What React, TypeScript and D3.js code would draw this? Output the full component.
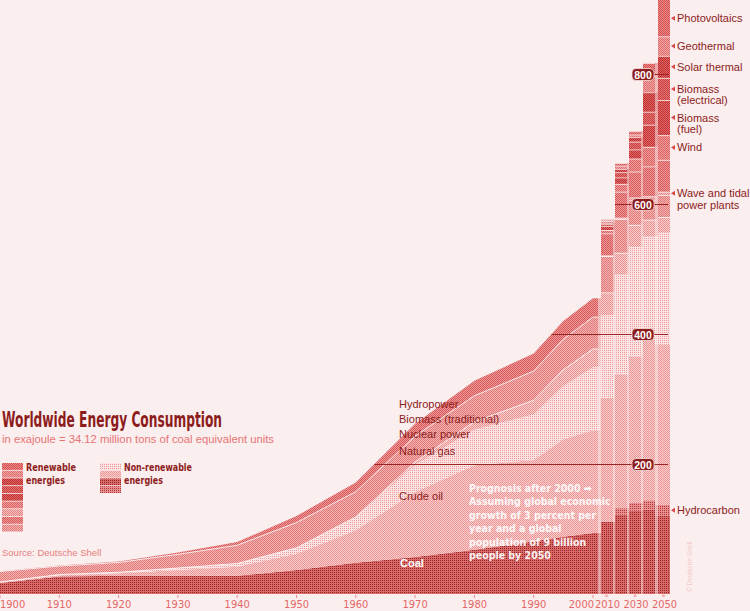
import React from 'react';
import * as d3 from 'd3';

const WIDTH = 750;
const HEIGHT = 611;

// Historical consumption in exajoule (area chart, 1900–2000)
const histYears = [1900, 1910, 1920, 1930, 1940, 1950, 1960, 1970, 1980, 1990, 1995, 2000];
const histCoal = [17, 27, 28, 28, 28, 37, 48, 57, 68, 81, 88, 94];
const histCrudeOil = [1, 2, 4, 9, 14, 25, 50, 100, 130, 125, 150, 158];
const histNaturalGas = [0.5, 1, 1.5, 3, 5, 9, 20, 42, 55, 70, 82, 97];
const histNuclear = [0, 0, 0, 0, 0, 0, 0.5, 4, 12, 22, 25, 28];
const histBiomassTrad = [16, 13, 15, 21, 28, 39, 39, 40, 40, 45, 47, 49];
const histHydropower = [0.5, 1, 1.5, 3, 5, 10, 14, 19, 23, 27, 28, 29];

// Prognosis in exajoule (stacked bars, 2010–2050)
const progYears = [2010, 2020, 2030, 2040, 2050];
const progCoal = [111, 122, 128, 130, 121];
const progHydrocarbon = [0, 10, 12, 14, 16];
const progCrudeOil = [191, 206, 225, 247, 246];
const progNaturalGas = [127, 154, 169, 159, 174];
const progNuclear = [35, 33, 34, 26, 23];
const progBiomassTrad = [56, 52, 38, 30, 34];
const progWaveTidal = [1, 2, 4, 6, 5];
const progHydropower = [34, 40, 40, 46, 49];
const progWind = [5, 12, 20, 30, 38];
const progBiomassFuel = [6, 10, 14, 34, 54];
const progBiomassElec = [3, 8, 12, 20, 34];
const progSolarThermal = [2, 5, 7, 30, 34];
const progGeothermal = [3, 5, 4, 25, 30];
const progPhotovoltaics = [2, 4, 5, 20, 85];

const gridValues = [200, 400, 600, 800];
const histAxisYears = [1900, 1910, 1920, 1930, 1940, 1950, 1960, 1970, 1980, 1990, 2000];
const progAxisYears = [2010, 2030, 2050];

const prognosisLines = [
  'Prognosis after 2000 \u27A1',
  'Assuming global economic',
  'growth of 3 percent per',
  'year and a global',
  'population of 9 billion',
  'people by 2050',
];

// Stack order, bottom to top
const LAYERS = [
  { key: 'coal', hist: histCoal, prog: progCoal },
  { key: 'hydrocarbon', hist: null, prog: progHydrocarbon },
  { key: 'oil', hist: histCrudeOil, prog: progCrudeOil },
  { key: 'gas', hist: histNaturalGas, prog: progNaturalGas },
  { key: 'nuclear', hist: histNuclear, prog: progNuclear },
  { key: 'biomassTrad', hist: histBiomassTrad, prog: progBiomassTrad },
  { key: 'wave', hist: null, prog: progWaveTidal },
  { key: 'hydro', hist: histHydropower, prog: progHydropower },
  { key: 'wind', hist: null, prog: progWind },
  { key: 'bioFuel', hist: null, prog: progBiomassFuel },
  { key: 'bioElec', hist: null, prog: progBiomassElec },
  { key: 'solarThermal', hist: null, prog: progSolarThermal },
  { key: 'geothermal', hist: null, prog: progGeothermal },
  { key: 'pv', hist: null, prog: progPhotovoltaics },
];

// Halftone-like fills: background tone plus a 2x2 dot or checker pattern
const FILLS: Record<string, { bg: string; fg: string; kind: 'dot' | 'checker' }> = {
  coal: { bg: '#da6a6a', fg: '#922424', kind: 'dot' },
  hydrocarbon: { bg: '#e88e8e', fg: '#b03838', kind: 'dot' },
  oil: { bg: '#f9d0d0', fg: '#ec9494', kind: 'checker' },
  gas: { bg: '#fce3e3', fg: '#ee9a9a', kind: 'dot' },
  nuclear: { bg: '#f9d2d2', fg: '#e88c8c', kind: 'checker' },
  biomassTrad: { bg: '#f4b4b4', fg: '#e07878', kind: 'checker' },
  wave: { bg: '#f6c0c0', fg: '#e48282', kind: 'checker' },
  hydro: { bg: '#ee9a9a', fg: '#d65858', kind: 'checker' },
  wind: { bg: '#f09e9e', fg: '#da6060', kind: 'checker' },
  bioFuel: { bg: '#e06a6a', fg: '#c03030', kind: 'checker' },
  bioElec: { bg: '#e47676', fg: '#c83e3e', kind: 'checker' },
  solarThermal: { bg: '#dd6262', fg: '#be3030', kind: 'checker' },
  geothermal: { bg: '#f1a4a4', fg: '#de6e6e', kind: 'checker' },
  pv: { bg: '#ea8a8a', fg: '#d44e4e', kind: 'checker' },
};

const RENEWABLE_LEGEND = ['pv', 'geothermal', 'solarThermal', 'bioElec', 'bioFuel', 'wind', 'wave', 'hydro', 'biomassTrad'];
const NONRENEWABLE_LEGEND = ['gas', 'oil', 'coal', 'hydrocarbon'];

const RIGHT_LABELS: { key: string; lines: string[] }[] = [
  { key: 'pv', lines: ['Photovoltaics'] },
  { key: 'geothermal', lines: ['Geothermal'] },
  { key: 'solarThermal', lines: ['Solar thermal'] },
  { key: 'bioElec', lines: ['Biomass', '(electrical)'] },
  { key: 'bioFuel', lines: ['Biomass', '(fuel)'] },
  { key: 'wind', lines: ['Wind'] },
  { key: 'wave', lines: ['Wave and tidal', 'power plants'] },
  { key: 'hydrocarbon', lines: ['Hydrocarbon'] },
];

const BG = '#fbeeee';
const DARK = '#8c1c1c';
const LIGHT_TEXT = '#e57474';
const NARROW = "'Liberation Sans Narrow', 'DejaVu Sans Condensed', sans-serif";
const SANS = "'Liberation Sans', 'DejaVu Sans', sans-serif";

export default function App() {
  const keys = LAYERS.map((l) => l.key);

  const y = d3.scaleLinear().domain([0, 200]).range([594, 464]);
  const xHist = d3.scaleLinear().domain([1900, 2000]).range([0, 593]);
  const xProg = d3.scaleLinear().domain([2010, 2050]).range([606.5, 663.5]);
  const BAR_W = 12;
  const HIST_END = 2000.85;
  const RIGHT_EDGE = 668;

  const histRows: any[] = histYears.map((yr, i) => {
    const row: any = { year: yr };
    LAYERS.forEach((l) => (row[l.key] = l.hist ? l.hist[i] : 0));
    return row;
  });
  histRows.push({ ...histRows[histRows.length - 1], year: HIST_END });

  const progRows: any[] = progYears.map((yr, i) => {
    const row: any = { year: yr };
    LAYERS.forEach((l) => (row[l.key] = l.prog[i]));
    return row;
  });

  const stack = d3.stack<any>().keys(keys);
  const histStack = stack(histRows);
  const progStack = stack(progRows);

  const area = d3
    .area<any>()
    .x((d) => xHist(d.data.year))
    .y0((d) => y(d[0]))
    .y1((d) => y(d[1]));
  const topLine = d3
    .line<any>()
    .x((d) => xHist(d.data.year))
    .y((d) => y(d[1]));

  const barX = (i: number) => Math.round(xProg(progYears[i]) - BAR_W / 2);

  // columns: end of the historical area, then each bar
  const lastHist = histRows.length - 1;
  const gaps = progYears.map((_, i) => {
    const x0 = i === 0 ? xHist(HIST_END) : barX(i - 1) + BAR_W;
    const x1 = barX(i);
    const segs = keys.map((k, ki) => {
      const L = i === 0 ? histStack[ki][lastHist] : progStack[ki][i - 1];
      const R = progStack[ki][i];
      return { key: k, lo: Math.min(L[0], R[0]), hi: Math.min(L[1], R[1]) };
    });
    return { x0, x1, segs };
  });

  const histTotals = histRows.map((r) => d3.sum(keys, (k) => r[k]));
  const progTotals = progRows.map((r) => d3.sum(keys, (k) => r[k]));
  const gridStart = (v: number): number | null => {
    for (let i = 0; i < histRows.length; i++) {
      if (histTotals[i] >= v) {
        if (i === 0) return xHist(histRows[0].year);
        const t = (v - histTotals[i - 1]) / (histTotals[i] - histTotals[i - 1]);
        return xHist(histRows[i - 1].year + t * (histRows[i].year - histRows[i - 1].year));
      }
    }
    for (let i = 0; i < progRows.length; i++) if (progTotals[i] >= v) return barX(i);
    return null;
  };

  const last = progRows.length - 1;
  const segMid = (key: string) => {
    const ki = keys.indexOf(key);
    const d = progStack[ki][last];
    const top = Math.max(y(d[1]), 0);
    return (top + y(d[0])) / 2;
  };

  const separatorKeys = new Set(['nuclear', 'biomassTrad']);

  return (
    <svg
      width={WIDTH}
      height={HEIGHT}
      style={{ position: 'absolute', left: 0, top: 0, display: 'block' }}
    >
      <defs>
        {keys.map((k) => {
          const f = FILLS[k];
          return (
            <pattern key={k} id={`pat-${k}`} width={2} height={2} patternUnits="userSpaceOnUse">
              <rect width={2} height={2} fill={f.bg} />
              <rect x={0} y={0} width={1} height={1} fill={f.fg} />
              {f.kind === 'checker' && <rect x={1} y={1} width={1} height={1} fill={f.fg} />}
            </pattern>
          );
        })}
      </defs>

      <rect width={WIDTH} height={HEIGHT} fill={BG} />

      {/* historical stacked area */}
      <g>
        {histStack.map((s) =>
          d3.max(s, (d) => d[1] - d[0])! > 0 ? (
            <path key={s.key} d={area(s as any)!} fill={`url(#pat-${s.key})`} />
          ) : null
        )}
        {histStack
          .filter((s) => separatorKeys.has(s.key))
          .map((s) => (
            <path key={`sep-${s.key}`} d={topLine(s as any)!} fill="none" stroke="#fff" strokeWidth={0.9} opacity={0.85} />
          ))}
      </g>

      {/* lighter fill between the prognosis bars */}
      <g opacity={0.5}>
        {gaps.map((g, gi) =>
          g.segs.map((s) =>
            s.hi > s.lo ? (
              <rect
                key={`${gi}-${s.key}`}
                x={g.x0}
                width={g.x1 - g.x0}
                y={y(s.hi)}
                height={y(s.lo) - y(s.hi)}
                fill={`url(#pat-${s.key})`}
              />
            ) : null
          )
        )}
      </g>

      {/* prognosis bars */}
      <g>
        {progStack.map((s, ki) =>
          s.map((d, i) =>
            d[1] > d[0] ? (
              <g key={`${s.key}-${i}`}>
                <rect
                  x={barX(i)}
                  width={BAR_W}
                  y={y(d[1])}
                  height={y(d[0]) - y(d[1])}
                  fill={`url(#pat-${s.key})`}
                />
                {ki >= 4 && (
                  <line
                    x1={barX(i)}
                    x2={barX(i) + BAR_W}
                    y1={y(d[1]) + 0.5}
                    y2={y(d[1]) + 0.5}
                    stroke="#fff"
                    strokeWidth={1}
                    opacity={0.75}
                  />
                )}
              </g>
            ) : null
          )
        )}
      </g>

      {/* gridlines with value badges */}
      <g>
        {gridValues.map((v) => {
          const xs = gridStart(v);
          if (xs === null) return null;
          const yy = Math.round(y(v)) + 0.5;
          return (
            <g key={v}>
              <line x1={xs} x2={RIGHT_EDGE} y1={yy} y2={yy} stroke="#9a2424" strokeWidth={1} />
              <rect x={632} y={yy - 6} width={22} height={12} rx={4} fill={DARK} stroke="#f8dede" strokeWidth={0.8} />
              <text x={643} y={yy + 4} textAnchor="middle" fill="#fff" fontFamily={SANS} fontWeight="bold" fontSize={10.5}>
                {v}
              </text>
            </g>
          );
        })}
      </g>

      {/* x axis */}
      <g fontFamily={NARROW} fontSize={11} fill="#e36868">
        {histAxisYears.map((yr, i) => (
          <g key={yr}>
            <line x1={xHist(yr)} x2={xHist(yr)} y1={595} y2={598} stroke="#e89090" strokeWidth={1} />
            <text
              x={i === 0 ? 0 : yr === 2000 ? xHist(yr) + 1 : xHist(yr)}
              y={608}
              textAnchor={i === 0 ? 'start' : yr === 2000 ? 'end' : 'middle'}
            >
              {yr}
            </text>
          </g>
        ))}
        {progAxisYears.map((yr) => (
          <g key={yr}>
            <path d={`M${xProg(yr) - 2},${597} L${xProg(yr) + 2},${597} L${xProg(yr)},${593} Z`} fill="#f2b4b4" />
            <text x={xProg(yr) + 1} y={608} textAnchor="middle">
              {yr}
            </text>
          </g>
        ))}
      </g>

      {/* labels inside the area */}
      <g fontFamily={SANS} fontSize={11} fill={DARK}>
        <text x={399} y={408}>Hydropower</text>
        <text x={399} y={423}>Biomass (traditional)</text>
        <text x={399} y={438}>Nuclear power</text>
        <text x={399} y={455}>Natural gas</text>
        <text x={399} y={500}>Crude oil</text>
        <text x={400} y={567} fill="#fff" fontWeight="bold">Coal</text>
      </g>

      <g fontFamily={NARROW} fontSize={10.5} fontWeight="bold" fill="#fff" opacity={0.92}>
        {prognosisLines.map((t, i) => (
          <text key={i} x={469} y={492 + i * 13.4}>
            {t}
          </text>
        ))}
      </g>

      {/* labels on the right of the 2050 bar */}
      <g fontFamily={SANS} fontSize={11} fill={DARK}>
        {RIGHT_LABELS.map((l) => {
          const ay = segMid(l.key);
          return (
            <g key={l.key}>
              <path d={`M${671},${ay} L${675},${ay - 2.5} L${675},${ay + 2.5} Z`} fill="#d84848" />
              {l.lines.map((t, li) => (
                <text key={li} x={677} y={ay + 4 + li * 11.5}>
                  {t}
                </text>
              ))}
            </g>
          );
        })}
      </g>

      {/* title block and legend */}
      <text x={2} y={427} fontFamily={NARROW} fontWeight="bold" fontSize={21} fill={DARK} textLength={220} lengthAdjust="spacingAndGlyphs">
        Worldwide Energy Consumption
      </text>
      <text x={2} y={443} fontFamily={SANS} fontSize={11} fill={LIGHT_TEXT} textLength={272} lengthAdjust="spacingAndGlyphs">
        in exajoule = 34.12 million tons of coal equivalent units
      </text>

      <g>
        {RENEWABLE_LEGEND.map((k, i) => (
          <rect key={k} x={2} y={463 + i * 7.7} width={21} height={6.9} fill={`url(#pat-${k})`} />
        ))}
        {NONRENEWABLE_LEGEND.map((k, i) => (
          <rect key={k} x={100} y={463 + i * 7.7} width={21} height={6.9} fill={`url(#pat-${k})`} />
        ))}
        <g fontFamily={NARROW} fontWeight="bold" fontSize={10.5} fill={DARK}>
          <text x={26} y={471} textLength={50} lengthAdjust="spacingAndGlyphs">Renewable</text>
          <text x={26} y={484} textLength={39} lengthAdjust="spacingAndGlyphs">energies</text>
          <text x={124} y={471} textLength={68} lengthAdjust="spacingAndGlyphs">Non-renewable</text>
          <text x={124} y={484} textLength={39} lengthAdjust="spacingAndGlyphs">energies</text>
        </g>
      </g>

      <text x={2} y={556} fontFamily={SANS} fontSize={9.5} fill="#e58080">
        Source: Deutsche Shell
      </text>

      <text
        transform="translate(692,592) rotate(-90)"
        fontFamily={SANS}
        fontSize={6.5}
        fill="#f2c8c8"
      >
        © Deutsche Shell
      </text>
    </svg>
  );
}
